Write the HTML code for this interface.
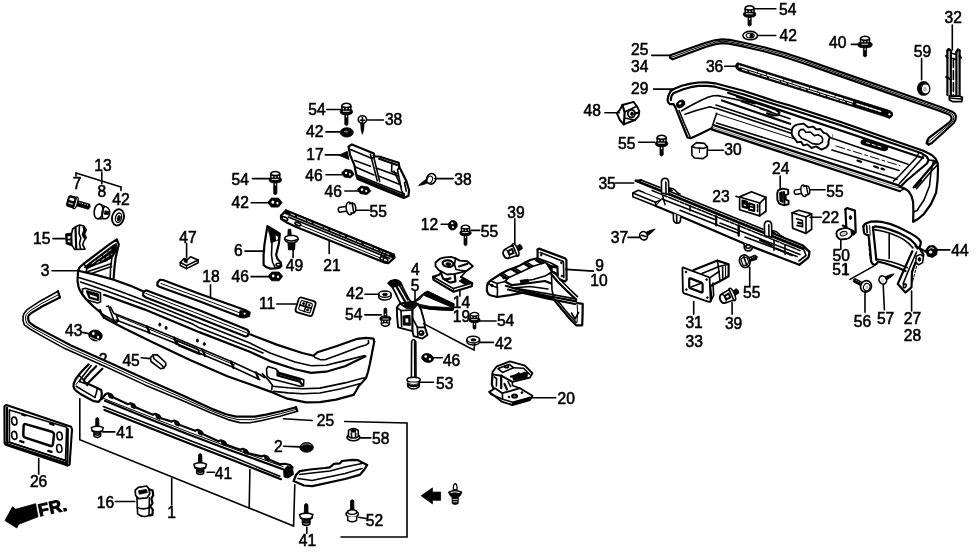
<!DOCTYPE html><html><head><meta charset="utf-8"><title>Bumper parts diagram</title><style>
html,body{margin:0;padding:0;background:#fff}body{width:978px;height:554px;overflow:hidden}svg{display:block;filter:grayscale(1) blur(.45px)}.lb text{font-family:"Liberation Sans",Arial,sans-serif;font-size:15.6px;fill:#000;text-anchor:middle;stroke:#000;stroke-width:.55px}.ld{stroke:#000;stroke-width:1.6;fill:none;stroke-linecap:round}.p{stroke:#000;stroke-width:1.6;fill:none;stroke-linecap:round;stroke-linejoin:round}.pw{stroke:#000;stroke-width:1.6;fill:#fff;stroke-linecap:round;stroke-linejoin:round}.h{stroke:#000;stroke-width:2.2;fill:none;stroke-linecap:round;stroke-linejoin:round}.t{stroke:#000;stroke-width:1;fill:none;stroke-linecap:round;stroke-linejoin:round}.g{stroke:#555;stroke-width:.8;fill:none;stroke-linecap:round;stroke-linejoin:round}.k{fill:#000;stroke:#000;stroke-width:.8;stroke-linejoin:round}.w{fill:#fff;stroke:none}
</style></head><body>
<svg width="978" height="554" viewBox="0 0 978 554">
<rect width="978" height="554" fill="#fff"/>
<g class="lb">
<text x="103" y="171.2">13</text>
<text x="77.2" y="189.4">7</text>
<text x="101.9" y="197">8</text>
<text x="121" y="205.4">42</text>
<text x="41.7" y="244.3">15</text>
<text x="45.2" y="276">3</text>
<text x="188" y="242.8">47</text>
<text x="211" y="282.2">18</text>
<text x="238.4" y="255.8">6</text>
<text x="317" y="115">54</text>
<text x="314.8" y="137">42</text>
<text x="393.6" y="125.4">38</text>
<text x="315" y="160.4">17</text>
<text x="314" y="180.8">46</text>
<text x="333.2" y="197.3">46</text>
<text x="378.2" y="216.5">55</text>
<text x="240.2" y="184.8">54</text>
<text x="240.2" y="208">42</text>
<text x="463" y="184.8">38</text>
<text x="429.5" y="230">12</text>
<text x="639.7" y="54.9">25</text>
<text x="639.7" y="71.9">34</text>
<text x="639.7" y="93.6">29</text>
<text x="714.6" y="72.4">36</text>
<text x="788.3" y="40.5">42</text>
<text x="592.3" y="116">48</text>
<text x="626.8" y="148.5">55</text>
<text x="733" y="155.2">30</text>
<text x="787.8" y="15">54</text>
<text x="837.7" y="48.2">40</text>
<text x="922.4" y="56.9">59</text>
<text x="953.2" y="23.2">32</text>
<text x="780.8" y="174.1">24</text>
<text x="835" y="197.3">55</text>
<text x="830.4" y="222.8">22</text>
<text x="607.1" y="188.7">35</text>
<text x="721" y="201.9">23</text>
<text x="619.5" y="243.1">37</text>
<text x="751.8" y="298.2">55</text>
<text x="599.5" y="270.8">9</text>
<text x="599" y="286">10</text>
<text x="960" y="255.6">44</text>
<text x="841.3" y="261.1">50</text>
<text x="841" y="275.4">51</text>
<text x="862.5" y="326.8">56</text>
<text x="885.6" y="323.5">57</text>
<text x="912.5" y="324">27</text>
<text x="912.5" y="340.5">28</text>
<text x="515.9" y="217.5">39</text>
<text x="489.5" y="236.7">55</text>
<text x="415.4" y="274.9">4</text>
<text x="415" y="290.6">5</text>
<text x="461.4" y="307.8">14</text>
<text x="461.4" y="322.3">19</text>
<text x="505.6" y="326">54</text>
<text x="503.6" y="348.6">42</text>
<text x="451.6" y="366">46</text>
<text x="444.8" y="388.5">53</text>
<text x="566.2" y="403.5">20</text>
<text x="355" y="299.2">42</text>
<text x="353.8" y="319.9">54</text>
<text x="294.5" y="271.1">49</text>
<text x="332" y="270.6">21</text>
<text x="240.3" y="282.3">46</text>
<text x="267.2" y="309.3">11</text>
<text x="103" y="364.5">2</text>
<text x="73.7" y="336.1">43</text>
<text x="131.1" y="366">45</text>
<text x="125" y="437.9">41</text>
<text x="223.5" y="478.6">41</text>
<text x="38.6" y="487.3">26</text>
<text x="105.5" y="508">16</text>
<text x="171.5" y="518">1</text>
<text x="325.4" y="425.7">25</text>
<text x="380.8" y="443.7">58</text>
<text x="278.4" y="451.9">2</text>
<text x="374.5" y="525.5">52</text>
<text x="307.5" y="546">41</text>
<text x="694.1" y="328">31</text>
<text x="694.3" y="347.4">33</text>
<text x="733.6" y="328.9">39</text>
<text x="0" y="0" transform="translate(39.6,516.4) rotate(-12)" style="font-weight:bold;font-size:17.5px;text-anchor:start;stroke-width:.9px;letter-spacing:.3px">FR.</text>
</g>
<path class="h" d="M78.1 270.7L79.5 267.4L86 262L110 243.8L116.8 239.3L118.8 244.6L117 252L115.6 258L114.4 268L113.6 278.8"/>
<path class="k" d="M84 267.4L90 262.4L113 245.2L116.4 243.4L116.6 250.6L112.6 257.4L106 261.2L96 264.8L88 268.4Z"/>
<path class="p" style="stroke:#fff;stroke-width:.9;stroke-dasharray:5 2" d="M92 263.6L111 249.6"/>
<path class="p" style="stroke:#fff;stroke-width:.8;stroke-dasharray:3 2.5" d="M97 263L112 254"/>
<path class="p" d="M88 271.6L100 267.4L111.4 263.6"/>
<path class="p" d="M91.5 273.4L102 269.8L111.6 266.6"/>
<path class="p" d="M111.8 258.5L110.6 268L110.2 277.6"/>
<path class="p" d="M83.6 263.4L87 268L86.2 272"/>
<path class="h" d="M78.1 270.7L95 274.6L113.7 279.7L130 285.6L143.6 291.6"/>
<path class="h" d="M249.9 334.3L277.4 344.9L302.3 353L313.6 355.8"/>
<path class="h" d="M313.6 355.8L317.4 352.3L337 346L357.3 338.8L366 337.8L373.5 338.6L374.2 341.7"/>
<path class="p" d="M313.6 355.8L314.9 357.6L320 359.6L324.9 359.8L340 354.2L359.8 346.7L366.1 344.9L368.6 343.2L368.4 340.6"/>
<path class="h" d="M374.2 341.7L372 353L369.8 364.2L368 372L366.1 377.9L362.5 382L358.5 386.2L356 391L353.5 394.9"/>
<path class="h" d="M353.5 394.9L336 399.6L319.9 402.2L306.1 402.4L287.4 398.7L272.5 392.4L250 384.3L227.4 376.2L190 360L150 341L125 328.7L108.7 320.2L104 317.5"/>
<path class="h" d="M78.1 270.7L77.5 280.7L78.6 287L79.4 289.4L82 294L86.2 299.4L94 307L99.9 311.9L104 317.5"/>
<path class="p" d="M78.7 277.6L95 282.6L119.9 291.3L144.9 300.7L169.8 310.7L199.9 323.1L249.8 343L270 353L295 362L311.2 365.8L326.1 365.2L345 360.6L364.8 355.5"/>
<path class="p" d="M80.6 282L107.4 291.3L144.9 305L192 323.8L199.9 328.1L249.8 347.4L263 353"/>
<path class="h" d="M104 294.8L144.9 309.6L199.9 332.4L249.8 351.8L270 361.1L295 369.2L311.2 372.9L326.1 371.7L345 366.2L365.4 356.3"/>
<path class="p" d="M272.5 386.2L288 387.8L302.4 388.7L319.9 388.1L344.9 382.9L362.3 378.3L366.1 377.9"/>
<path class="p" d="M273.7 391.4L288 392.9L302.4 393.7L319.9 393L340 389L359.8 383.7"/>
<path class="p" d="M262.4 373.7L268 379.6L272.3 384.9L271.7 389.9"/>
<path class="h" d="M143.5 292L146 290.3L200 310.5L247.3 329.7L249 332L247.5 336L245.5 336.5L200 318.5L146 297.5L143 295.5L143.5 292"/>
<path class="t" d="M146 293.5L200 314.5L247 333"/>
<path class="p" d="M82.5 289L85.5 288.3L100.5 292.8L100.5 302L97.5 303L87 300L82.5 294.5L82.5 289"/>
<path class="h" d="M87 291.3L98 294.6L98 300L89.5 297.6L87 291.3"/>
<path class="h" d="M89 293.2L97 295.8"/>
<path class="p" d="M106.5 306.5L108.5 306L113.5 319.5L115.5 323L118.5 321L116.5 315.5"/>
<path class="p" d="M110.5 307L113.6 313.2L150 327.5L184.8 342L234.7 363L259.6 374.5L264.5 377.5"/>
<path class="p" d="M116.1 319.9L150 333L184.8 347L234.7 368L259.6 379.6"/>
<path class="t" d="M113.6 313.2L116.5 315.5L150 329.5L184.8 344L234.7 365"/>
<path class="p" d="M100 309.5L102 314L110 318.5L116 322"/>
<path class="h" d="M147 326.5L149.5 333.0"/>
<path class="h" d="M174 337.5L176.5 344.0"/>
<path class="h" d="M202.5 349.5L205.0 356.0"/>
<path class="h" d="M231 361.5L233.5 368.0"/>
<path class="h" d="M256 372.5L258.5 379.0"/>
<path class="p" d="M176.5 340.5L198 349.5L200 354.5L178.5 345.5L176.5 340.5"/>
<ellipse class="k" cx="159.8" cy="324.6" rx="1.1" ry="1.6"/>
<ellipse class="k" cx="166.1" cy="327.9" rx="1.1" ry="1.6"/>
<ellipse class="k" cx="197.4" cy="340.6" rx="1.1" ry="1.6"/>
<ellipse class="k" cx="204.3" cy="344" rx="1.1" ry="1.6"/>
<path class="p" d="M268 366.5L266.5 369L267 376L270 378.5L273 379.3L300 386.3L303.5 386L303.8 380L300.5 378.5L279 372.5L276 369L268 366.5"/>
<path class="h" d="M277.5 371L277.5 375.5L300 381.8L302 384.5"/>
<path class="h" d="M279 373.8L300 379.8"/>
<path class="h" d="M158.6 281.2L160 279.8L163 280L200 294L245 310L249.6 312.5L249 316L244 317.5L240 316.8L200 301.5L160 287L157.3 285.5L157.5 282.5L158.6 281.2"/>
<path class="t" d="M161 283.5L200 297.8L240 313"/>
<path class="k" d="M240 310.2L239.3 316.5L244 317.5L249.3 315.3L249.5 312.5L245 310.3"/>
<circle cx="244.6" cy="313.6" r="1.1" fill="#fff"/>
<path class="w" d="M58 291.2L40 301.2L27.5 309.3L24 313.5L23.1 316.2L23 320.5L24.4 324.9L30 329L40 334.9L64.9 348.6L107.4 367.4L144.9 384.9L182.3 400.5L211.2 413L228 419.6L239.9 422.6L249.9 422.8L262 420.5L280 416.2L297.3 411.2L296 407.2L281 411.2L266 414.6L254.9 416.6L236.1 416.6L226 414.2L211.2 408.6L182.3 395.2L144.9 378.7L107.4 361.8L71.1 345.5L46.2 332.4L35 326.5L29.3 322.4L28.4 320L28.1 317.4L28.6 315.5L31.2 313.1L42.4 306.2L59.9 297.5Z"/>
<path class="p" d="M58 291.2L40 301.2L27.5 309.3L24 313.5L23.1 316.2L23 320.5L24.4 324.9L30 329L40 334.9L64.9 348.6L107.4 367.4L144.9 384.9L182.3 400.5L211.2 413L228 419.6L239.9 422.6L249.9 422.8L262 420.5L280 416.2L297.3 411.2"/>
<path class="h" d="M59.9 297.5L42.4 306.2L31.2 313.1L28.6 315.5L28.1 317.4L28.4 320L29.3 322.4L35 326.5L46.2 332.4L71.1 345.5L107.4 361.8L144.9 378.7L182.3 395.2L211.2 408.6L226 414.2L236.1 416.6L254.9 416.6L266 414.6L281 411.2L296 407.2"/>
<path class="h" d="M58 291.2L59.9 297.5"/>
<path class="h" d="M297.3 411.2L296 407.2"/>
<path class="t" d="M59.0 294.4L41.2 303.7L29.4 311.2L26.3 314.5L25.6 316.8L25.7 320.2L26.9 323.6L32.5 327.8L43.1 333.6L68.0 347.1L107.4 364.6L144.9 381.8L182.3 397.9L211.2 410.8L227.0 416.9L238.0 419.6L252.4 419.7L264.0 417.6L280.5 413.7L296.6 409.2"/>
<path class="h" d="M88.7 364.4L83 370L78.7 375L75.5 379.5L73.7 383.7L73.5 386.5L74.3 388.7L76.5 391.2L80 393.7L93.7 401.2L98.7 401.8L101.2 398.7"/>
<path class="h" d="M96.2 366.2L90 372.6L83.7 380L85 382.6L97.4 388.1L101.2 389.9L101.8 393.7L101.2 398.7"/>
<path class="p" d="M91.2 365.6L81.8 377.5L79.5 381.5"/>
<path class="h" d="M102.4 368.7L95 376L86.8 384.3"/>
<path class="p" d="M76.2 386.2L85 391.6L94.9 397.4"/>
<path class="p" d="M78.7 375L83.7 380"/>
<path class="p" d="M79.5 381.5L86.8 384.3L87.4 385.6"/>
<path class="p" d="M97.4 388.1L96.4 392.5L94.9 397.4"/>
<path class="t" d="M80.5 379L76 384.5"/>
<path class="h" d="M102.3 398.7L104 396L105.5 394.2L108 393.2L111.5 394.6L113.5 397.6L128.0 404.2L130.5 403.2L134.0 404.6L136.0 407.6L152.9 414.8L155.4 413.8L158.9 415.2L160.9 418.2L171.7 421.6L174.2 420.6L177.7 422.0L179.7 425.0L195.1 430.8L197.6 429.8L201.1 431.2L203.1 434.2L218.5 441.3L221 440.3L224.5 441.7L226.5 444.7L240.3 449.8L242.8 448.8L246.3 450.2L248.3 453.2L261.6 456.4L264.1 455.4L267.6 456.8L269.6 459.8L280 464.2L285 463.8L290 465L292.5 467.4"/>
<path class="k" d="M108 393.4L111.5 394.6L112.6 398.8L109 397.4Z"/>
<path class="k" d="M130.5 403.4L134.0 404.6L135.1 408.8L131.5 407.4Z"/>
<path class="k" d="M155.4 414L158.9 415.2L160.0 419.4L156.4 418Z"/>
<path class="k" d="M174.2 420.8L177.7 422.0L178.8 426.2L175.2 424.8Z"/>
<path class="k" d="M197.6 430L201.1 431.2L202.2 435.4L198.6 434Z"/>
<path class="k" d="M221 440.5L224.5 441.7L225.6 445.9L222 444.5Z"/>
<path class="k" d="M242.8 449L246.3 450.2L247.4 454.4L243.8 453Z"/>
<path class="k" d="M264.1 455.6L267.6 456.8L268.7 461.0L265.1 459.6Z"/>
<path class="h" d="M105 400.8L150 419.2L190 435L233 451.2L283 469.2"/>
<path class="t" d="M104 398.6L150 416.8L190 432.6L233 448.6L283 466.6"/>
<path class="p" d="M103.3 406.5L150 424.8L190 440.5L233 457L279.8 476.2"/>
<path class="h" d="M104.5 410L150 428L190 443.7L233 460.2L281 479.2"/>
<path class="k" d="M283.5 469.5L284 477L288 478L293.5 474.5L292.5 467.4L287 466"/>
<path class="h" d="M293.6 481.1L296 475L299.8 471.1L310 469.5L325 468L329.7 467.4L334 463.8L340 463.3L342 461L352.2 459.9L358 460.2L367.2 464.9L364 470L359.7 474.9L345 479L312.3 486.1L304 485.5L293.6 481.1"/>
<path class="p" d="M299.8 474.5L312 473L330 471L345 467L362 463.5"/>
<path class="p" d="M298 478.5L312 480.5L345 473.5L362 468.5"/>
<path class="pw" style="stroke-width:2.1" d="M4.4 406.1L6.4 405L71.1 426.7L72 429.5L69.6 464.6L67.6 465.6L5.6 444.8L4.6 443Z"/>
<path class="p" d="M9.4 409.9L66.7 427.3L65.5 460.4L9.4 442.3Z"/>
<path class="p" d="M4.6 443L9.4 442.3L65.5 460.4L67.6 465.6"/>
<path class="h" d="M7 407.5L7 443.2"/>
<path class="h" d="M7.5 444.2L66.5 463.2"/>
<path class="h" d="M67.8 429L67.4 463"/>
<path class="h" d="M25.6 424.1L52 431.8Q54.2 432.6 54 434.8L52.9 444.2Q52.4 446.6 50 445.8L25.2 437.6Q23.2 436.8 23.3 434.8L23.6 426Q23.7 423.6 25.6 424.1Z" style="stroke-width:2.5"/>
<ellipse class="p" cx="14.3" cy="421.1" rx="2.6" ry="4" transform="rotate(-8 14.3 421.1)"/>
<ellipse class="p" cx="14.3" cy="435.4" rx="2.6" ry="4" transform="rotate(-8 14.3 435.4)"/>
<ellipse class="p" cx="59.6" cy="436" rx="2.6" ry="4" transform="rotate(-8 59.6 436)"/>
<ellipse class="p" cx="59.3" cy="448.5" rx="2.6" ry="4" transform="rotate(-8 59.3 448.5)"/>
<path class="h" style="stroke-width:2.4" d="M22.1 414.3L25.3 415.3"/>
<path class="h" style="stroke-width:2.4" d="M50.2 423.7L53.4 424.7"/>
<path class="h" style="stroke-width:2.4" d="M20.2 441.2L23.4 442.2"/>
<path class="h" style="stroke-width:2.4" d="M48.3 450.9L51.5 451.9"/>
<path class="k" d="M5 520.6L12.5 506.8L15.6 509.3L35.6 503.7L38 516.8L18.7 524.3L16.8 528Z"/>
<path class="k" d="M421.2 495.8L432.4 487.9L432.4 492.1L440.6 492.1L440.6 500.3L432.4 500.3L432.4 503.8Z"/>
<g transform="translate(275.3 171.2) rotate(0) scale(1.0)">
<path class="k" d="M-1.6 11L-1.6 22.5L0 23.5L1.6 22.5L1.6 11Z"/>
<path d="M-.5 12.3L.6 12.3L.6 14.2L-.5 14.2Z" fill="#fff"/>
<path class="k" d="M-6.25 8.6Q-6.25 6.6 -4.25 6.4L4.25 6.4Q6.25 6.6 6.25 8.6Q6.25 10.6 3.75 11.4L-3.75 11.4Q-6.25 10.6 -6.25 8.6Z"/>
<path d="M-4.3 7L-4.6 2.6Q-3.6 .2 0 .2Q3.6 .2 4.6 2.6L4.3 7Z" fill="#fff" stroke="#000" stroke-width="1.5" stroke-linejoin="round"/>
<path class="p" d="M-4.2 3.6Q0 5.2 4.2 3.6M-1.5 4.6L-1.5 7M1.8 4.6L1.8 7"/>
<path d="M-3.6 8.2L3.2 8.2" stroke="#fff" stroke-width=".9" fill="none"/>
</g>
<g transform="translate(346.4 103.1) rotate(0) scale(1.0)">
<path class="k" d="M-1.6 11L-1.6 21.5L0 22.5L1.6 21.5L1.6 11Z"/>
<path d="M-.5 12.3L.6 12.3L.6 14.2L-.5 14.2Z" fill="#fff"/>
<path class="k" d="M-6.25 8.6Q-6.25 6.6 -4.25 6.4L4.25 6.4Q6.25 6.6 6.25 8.6Q6.25 10.6 3.75 11.4L-3.75 11.4Q-6.25 10.6 -6.25 8.6Z"/>
<path d="M-4.3 7L-4.6 2.6Q-3.6 .2 0 .2Q3.6 .2 4.6 2.6L4.3 7Z" fill="#fff" stroke="#000" stroke-width="1.5" stroke-linejoin="round"/>
<path class="p" d="M-4.2 3.6Q0 5.2 4.2 3.6M-1.5 4.6L-1.5 7M1.8 4.6L1.8 7"/>
<path d="M-3.6 8.2L3.2 8.2" stroke="#fff" stroke-width=".9" fill="none"/>
</g>
<g transform="translate(749.6 5.6) rotate(0) scale(1.0)">
<path class="k" d="M-1.6 11L-1.6 19.5L0 20.5L1.6 19.5L1.6 11Z"/>
<path d="M-.5 12.3L.6 12.3L.6 14.2L-.5 14.2Z" fill="#fff"/>
<path class="k" d="M-6.25 8.6Q-6.25 6.6 -4.25 6.4L4.25 6.4Q6.25 6.6 6.25 8.6Q6.25 10.6 3.75 11.4L-3.75 11.4Q-6.25 10.6 -6.25 8.6Z"/>
<path d="M-4.3 7L-4.6 2.6Q-3.6 .2 0 .2Q3.6 .2 4.6 2.6L4.3 7Z" fill="#fff" stroke="#000" stroke-width="1.5" stroke-linejoin="round"/>
<path class="p" d="M-4.2 3.6Q0 5.2 4.2 3.6M-1.5 4.6L-1.5 7M1.8 4.6L1.8 7"/>
<path d="M-3.6 8.2L3.2 8.2" stroke="#fff" stroke-width=".9" fill="none"/>
</g>
<g transform="translate(865 36) rotate(0) scale(1.0)">
<path class="k" d="M-1.6 11L-1.6 20L0 21L1.6 20L1.6 11Z"/>
<path d="M-.5 12.3L.6 12.3L.6 14.2L-.5 14.2Z" fill="#fff"/>
<path class="k" d="M-7.25 8.6Q-7.25 6.6 -5.25 6.4L5.25 6.4Q7.25 6.6 7.25 8.6Q7.25 10.6 4.75 11.4L-4.75 11.4Q-7.25 10.6 -7.25 8.6Z"/>
<path d="M-4.3 7L-4.6 2.6Q-3.6 .2 0 .2Q3.6 .2 4.6 2.6L4.3 7Z" fill="#fff" stroke="#000" stroke-width="1.5" stroke-linejoin="round"/>
<path class="p" d="M-4.2 3.6Q0 5.2 4.2 3.6M-1.5 4.6L-1.5 7M1.8 4.6L1.8 7"/>
<path d="M-3.6 8.2L3.2 8.2" stroke="#fff" stroke-width=".9" fill="none"/>
</g>
<g transform="translate(661.6 135) rotate(0) scale(1.0)">
<path class="k" d="M-1.6 11L-1.6 20L0 21L1.6 20L1.6 11Z"/>
<path d="M-.5 12.3L.6 12.3L.6 14.2L-.5 14.2Z" fill="#fff"/>
<path class="k" d="M-6.25 8.6Q-6.25 6.6 -4.25 6.4L4.25 6.4Q6.25 6.6 6.25 8.6Q6.25 10.6 3.75 11.4L-3.75 11.4Q-6.25 10.6 -6.25 8.6Z"/>
<path d="M-4.3 7L-4.6 2.6Q-3.6 .2 0 .2Q3.6 .2 4.6 2.6L4.3 7Z" fill="#fff" stroke="#000" stroke-width="1.5" stroke-linejoin="round"/>
<path class="p" d="M-4.2 3.6Q0 5.2 4.2 3.6M-1.5 4.6L-1.5 7M1.8 4.6L1.8 7"/>
<path d="M-3.6 8.2L3.2 8.2" stroke="#fff" stroke-width=".9" fill="none"/>
</g>
<g transform="translate(465.5 225) rotate(0) scale(0.92)">
<path class="k" d="M-1.6 11L-1.6 21.5L0 22.5L1.6 21.5L1.6 11Z"/>
<path d="M-.5 12.3L.6 12.3L.6 14.2L-.5 14.2Z" fill="#fff"/>
<path class="k" d="M-6.25 8.6Q-6.25 6.6 -4.25 6.4L4.25 6.4Q6.25 6.6 6.25 8.6Q6.25 10.6 3.75 11.4L-3.75 11.4Q-6.25 10.6 -6.25 8.6Z"/>
<path d="M-4.3 7L-4.6 2.6Q-3.6 .2 0 .2Q3.6 .2 4.6 2.6L4.3 7Z" fill="#fff" stroke="#000" stroke-width="1.5" stroke-linejoin="round"/>
<path class="p" d="M-4.2 3.6Q0 5.2 4.2 3.6M-1.5 4.6L-1.5 7M1.8 4.6L1.8 7"/>
<path d="M-3.6 8.2L3.2 8.2" stroke="#fff" stroke-width=".9" fill="none"/>
</g>
<g transform="translate(474.5 312.2) rotate(0) scale(0.9)">
<path class="k" d="M-1.6 11L-1.6 18L0 19L1.6 18L1.6 11Z"/>
<path d="M-.5 12.3L.6 12.3L.6 14.2L-.5 14.2Z" fill="#fff"/>
<path class="k" d="M-6.25 8.6Q-6.25 6.6 -4.25 6.4L4.25 6.4Q6.25 6.6 6.25 8.6Q6.25 10.6 3.75 11.4L-3.75 11.4Q-6.25 10.6 -6.25 8.6Z"/>
<path d="M-4.3 7L-4.6 2.6Q-3.6 .2 0 .2Q3.6 .2 4.6 2.6L4.3 7Z" fill="#fff" stroke="#000" stroke-width="1.5" stroke-linejoin="round"/>
<path class="p" d="M-4.2 3.6Q0 5.2 4.2 3.6M-1.5 4.6L-1.5 7M1.8 4.6L1.8 7"/>
<path d="M-3.6 8.2L3.2 8.2" stroke="#fff" stroke-width=".9" fill="none"/>
</g>
<g transform="translate(385.4 326.4) rotate(180) scale(0.9)">
<path class="k" d="M-1.6 11L-1.6 19.5L0 20.5L1.6 19.5L1.6 11Z"/>
<path d="M-.5 12.3L.6 12.3L.6 14.2L-.5 14.2Z" fill="#fff"/>
<path class="k" d="M-6.25 8.6Q-6.25 6.6 -4.25 6.4L4.25 6.4Q6.25 6.6 6.25 8.6Q6.25 10.6 3.75 11.4L-3.75 11.4Q-6.25 10.6 -6.25 8.6Z"/>
<path d="M-4.3 7L-4.6 2.6Q-3.6 .2 0 .2Q3.6 .2 4.6 2.6L4.3 7Z" fill="#fff" stroke="#000" stroke-width="1.5" stroke-linejoin="round"/>
<path class="p" d="M-4.2 3.6Q0 5.2 4.2 3.6M-1.5 4.6L-1.5 7M1.8 4.6L1.8 7"/>
<path d="M-3.6 8.2L3.2 8.2" stroke="#fff" stroke-width=".9" fill="none"/>
</g>
<g><path class="k" d="M267.69999999999993 202.6L271.27 198.1L278.53 198.1L282.1 202.6L278.53 207.1L271.27 207.1Z"/><ellipse cx="272.78799999999995" cy="202.15" rx="1.32" ry="1.53" fill="#fff"/><ellipse cx="277.40799999999996" cy="203.04999999999998" rx="1.122" ry="1.3499999999999999" fill="#fff"/></g>
<ellipse cx="346.8" cy="132.4" rx="6.5" ry="4.7" class="k"/>
<ellipse cx="346" cy="131.6" rx="2.2" ry="1.1" fill="#777"/>
<g><ellipse cx="750.2" cy="35.6" rx="7.3" ry="4.2" fill="#fff" stroke="#000" stroke-width="1.6"/><ellipse cx="750.2" cy="35.6" rx="4.015000000000001" ry="2.3100000000000005" fill="#fff" stroke="#000" stroke-width="1.1"/></g>
<ellipse cx="751.5" cy="35.8" rx="1.6" ry="2" class="k"/>
<path class="pw" style="stroke-width:1.5" d="M378.7 294.2L378.7 296.6Q378.9 299.9 384.9 299.9Q391 299.9 391.1 296.6L391.1 294.2"/>
<ellipse cx="384.9" cy="294.2" rx="6.2" ry="3.1" fill="#fff" stroke="#000" stroke-width="1.5"/>
<ellipse cx="385" cy="294.4" rx="2.6" ry="1.2" class="k"/>
<path class="pw" style="stroke-width:1.5" d="M466.9 339.5L466.9 341.5Q467 344.9 473.2 344.9Q479.5 344.9 479.6 341.5L479.6 339.5"/>
<ellipse cx="473.2" cy="339.6" rx="6.3" ry="3.3" fill="#fff" stroke="#000" stroke-width="1.5"/>
<ellipse cx="473.4" cy="339.9" rx="2.6" ry="1.2" class="k"/>
<g transform="translate(72.3 201.9) rotate(16)"><path class="k" d="M3 -2.6L17.5 -2.6L18.6 0L17.5 2.6L3 2.6Z"/><path d="M7 -1.2L16.5 -1.2" stroke="#fff" stroke-width=".9" stroke-dasharray="1.2 1.4"/><ellipse cx="3.2" cy="0" rx="2.1" ry="6.1" fill="#fff" stroke="#000" stroke-width="1.4"/><path class="k" d="M-5 -4.4L-3.6 -5.6L2 -5.6L3 -4.6L3 4.6L2 5.6L-3.6 5.6L-5 4.4Z"/><path d="M-3.4 -3.6L1.2 -3.6L1.2 -1L-3.4 -1Z" fill="#fff"/><path d="M-3.4 1.2L1.2 1.2L1.2 3L-3.4 3Z" fill="#aaa"/></g>
<g transform="rotate(8 101 211.7)"><path class="pw" style="stroke-width:1.5" d="M99 204.6L105.5 206.2Q109.8 207.5 109.8 212.4Q109.8 217.4 105.5 218.3L99 219"/><ellipse cx="98.6" cy="211.8" rx="4.4" ry="7.4" fill="#fff" stroke="#000" stroke-width="1.6"/><path class="p" d="M103.5 206.6Q100.8 211.9 103.5 217.6"/><path class="k" d="M104.8 210.2L108.6 210.6L108.6 213.4L104.8 213.8Z"/></g>
<g transform="rotate(14 118 217.4)"><ellipse cx="118" cy="217.4" rx="5.9" ry="8.2" fill="#fff" stroke="#000" stroke-width="1.9"/><ellipse cx="118.6" cy="217.6" rx="3" ry="4.8" fill="#fff" stroke="#000" stroke-width="1.3"/><ellipse cx="119" cy="218" rx="1.4" ry="2.8" class="k"/></g>
<path class="pw" d="M66 234.2L71.8 233.2L72.6 229L75.5 226.8L79.8 225L83.9 226.1L86.2 229.6L84.4 234.2L86.2 237.7L83.9 241.1L82.7 244.6L85 249.2L74.6 249.4L72.3 245.7L66.5 243.4Z"/>
<path class="k" d="M66 234.2L71.8 233.2L72.3 245.7L66.5 243.4Z"/>
<path d="M67.6 236.4L70.4 236L70.4 238.4L67.6 238.8ZM67.8 240.4L70.4 240.4L70.4 242.6L67.8 242Z" fill="#fff"/>
<path class="h" d="M75.5 227.5L76.2 248.5"/>
<path class="p" d="M79.5 226L79 233.5L80.8 238L79.5 243.5L80.5 248.6"/>
<path class="h" d="M83.6 227.5L84.5 230.2L82.8 234.5L84.4 237.8"/>
<path class="h" d="M348.5 146.7L351.9 144.4L373.9 153.6L374.5 156.5L379.1 156.5L398.7 162.8L399.3 166.9L406.2 180.7L409.1 190L408.5 195.7L403.9 198L378.5 187.7L357.7 179L356.6 176.1L354.2 164.6L350.2 155.3Z"/>
<path class="p" d="M350.5 149.5L372 158.5L374.5 156.5"/>
<path class="p" d="M354.8 160.5L370.4 166.3"/>
<path class="p" d="M376.2 168L398.1 176.1"/>
<path class="p" d="M355.4 166.9L373.9 175"/>
<path class="p" d="M378.5 176.1L399.3 184.2"/>
<path class="p" d="M370.4 154.2L377.3 180.7"/>
<path class="p" d="M373.3 155.3L379.7 181.5"/>
<path class="h" d="M379.1 158.8L397 165"/>
<path class="h" d="M357.7 177.3L378.5 185.8L403.9 195.9"/>
<path class="p" d="M356.8 175L378.5 183.8L404.5 194"/>
<path class="p" d="M399.3 166.9L397.5 170L401.6 190.5L404 195.5"/>
<path class="p" d="M392 163L391.5 171.5L397 173.5"/>
<path class="p" d="M394 171L401 186.5"/>
<path class="p" d="M406.2 180.7L404.5 183L406.3 191"/>
<path class="k" d="M338.9 155.3L347.3 151.3L349 159.6Z"/>
<g transform="rotate(8 347.9 173.6)"><path class="k" d="M341.59999999999997 173.6L344.765 169.7L351.03499999999997 169.7L354.2 173.6L351.03499999999997 177.5L344.765 177.5Z"/><ellipse cx="346.07599999999996" cy="173.21" rx="1.1400000000000001" ry="1.326" fill="#fff"/><ellipse cx="350.066" cy="173.98999999999998" rx="0.9690000000000001" ry="1.17" fill="#fff"/></g>
<g transform="rotate(8 364 190.3)"><path class="k" d="M357.2 190.3L360.59 186.5L367.41 186.5L370.8 190.3L367.41 194.10000000000002L360.59 194.10000000000002Z"/><ellipse cx="362.016" cy="189.92000000000002" rx="1.2400000000000002" ry="1.292" fill="#fff"/><ellipse cx="366.356" cy="190.68" rx="1.054" ry="1.14" fill="#fff"/></g>
<g transform="translate(350.6 208.3) rotate(-8) scale(1.0)">
<path class="pw" style="stroke-width:1.5" d="M-3 -2.4L-11.5 -2.4Q-13.5 0 -11.5 2.4L-3 2.4Z"/>
<ellipse cx="-1.2" cy="0" rx="3.2" ry="6.4" fill="#fff" stroke="#000" stroke-width="1.5"/>
<path class="pw" style="stroke-width:1.5" d="M-.5 -4.6L2.4 -5L4.6 -3.6L5.2 0L4.6 3.6L2.4 5L-.5 4.6"/>
<path class="p" d="M2.2 -4.8L2.6 4.8"/>
</g>
<g transform="translate(805 190.6) rotate(-10) scale(0.92)">
<path class="pw" style="stroke-width:1.5" d="M-3 -2.4L-11 -2.4Q-13 0 -11 2.4L-3 2.4Z"/>
<ellipse cx="-1.2" cy="0" rx="3.2" ry="6.4" fill="#fff" stroke="#000" stroke-width="1.5"/>
<path class="pw" style="stroke-width:1.5" d="M-.5 -4.6L2.4 -5L4.6 -3.6L5.2 0L4.6 3.6L2.4 5L-.5 4.6"/>
<path class="p" d="M2.2 -4.8L2.6 4.8"/>
</g>
<g transform="translate(362.4 119.6) rotate(0)">
<path class="k" d="M-1.7 3.2L-1.3 9.975000000000001L0 14.7L1.3 9.975000000000001L1.7 3.2Z"/>
<ellipse cx="0" cy="0" rx="4.2" ry="3.7800000000000002" fill="#fff" stroke="#000" stroke-width="1.6"/>
<path class="p" d="M-2.1 .6L2.1 .6M0 -2.1L0 2.52"/>
</g>
<g transform="translate(431 179) rotate(62)"><path class="k" d="M-1.9 3L-1.4 9L0 14L1.4 9L1.9 3Z"/></g>
<ellipse cx="431.2" cy="178.8" rx="4.6" ry="5.4" fill="#fff" stroke="#000" stroke-width="1.5" transform="rotate(20 431.2 178.8)"/>
<ellipse cx="429.8" cy="179.6" rx="2.6" ry="3.6" fill="#fff" stroke="#000" stroke-width="1.1" transform="rotate(20 429.8 179.6)"/>
<path class="h" style="stroke-width:2.6" d="M286.0 210.6L393.9 254.9"/>
<path class="h" d="M286.0 210.6L281 215.6L281 218.9L287.2 222.7L296.9 227.2L385.0 262.7L388.3 263.2L394.5 257.6L393.9 254.9"/>
<path class="k" d="M286.2 210.0L394.1 254.3L392.7 257.9L284.8 213.6Z"/>
<path class="p" style="stroke:#fff;stroke-width:.9;stroke-dasharray:4 3 9 2" d="M290.9 214.1L390.1 254.9"/>
<path class="p" d="M288.4 217.0L389.8 258.6"/>
<path class="t" d="M300.2 225.1L380.1 257.9"/>
<ellipse class="pw" cx="284.8" cy="218.6" rx="3.1" ry="1.5" transform="rotate(24 284.8 218.6)"/>
<ellipse class="pw" cx="297.8" cy="224" rx="3.1" ry="1.3" transform="rotate(24 297.8 224)"/>
<ellipse class="pw" cx="384" cy="259.3" rx="4.2" ry="1.8" transform="rotate(24 384 259.3)"/>
<path class="p" d="M386.0 252.7L382.4 261.5"/>
<path class="p" d="M382.7 251.4L381.2 255.1"/>
<path class="h" d="M267.4 226.2L270.5 228L279.8 233.7L279 243L276.1 254.9L277.5 259L280.8 262.4L281.3 266L279.8 267.6L275.5 268.3L269.9 268.6L266 267L263.6 264.9L263.6 255L264.4 244.9L265.8 236L267.4 226.2Z"/>
<path class="k" d="M267.4 226.2L279.8 233.7L279.3 239.5L274.5 241.5L271 243L270 236Z"/>
<path d="M275.6 235.4L278 236.8L277.8 239.4L276 240.2Z" fill="#fff"/>
<path class="p" d="M272 243L271.5 255L272.5 262L275.5 268.3"/>
<ellipse class="pw" cx="278.3" cy="264.8" rx="2.2" ry="1.6"/>
<path class="k" d="M288.2 229.3L290.8 229.3L291.2 234.8L287.8 234.8Z"/>
<path d="M284.6 239.2Q284.6 235.4 291.4 235.2Q298.2 235.4 298.2 239.2L296.8 241.4L294.8 242.2L294.2 249.4L288.8 249.4L288.2 242.2L286 241.4Z" fill="#fff" stroke="#000" stroke-width="1.6" stroke-linejoin="round"/>
<path class="k" d="M288.4 242.4L294.6 242.4L294 249.4L289 249.4Z"/>
<path class="p" d="M285.2 239.6Q291.4 242.4 297.6 239.6"/>
<g><path class="k" d="M268.09999999999997 276.4L271.715 272.0L279.085 272.0L282.7 276.4L279.085 280.79999999999995L271.715 280.79999999999995Z"/><ellipse cx="273.256" cy="275.96" rx="1.34" ry="1.4960000000000002" fill="#fff"/><ellipse cx="277.94599999999997" cy="276.84" rx="1.139" ry="1.32" fill="#fff"/></g>
<g transform="rotate(17 305.5 306.6)"><rect x="296.8" y="299" width="17.6" height="15.4" rx="2.6" fill="#fff" stroke="#000" stroke-width="1.8"/><rect x="299.6" y="301.8" width="12" height="9.8" rx="1.5" fill="none" stroke="#000" stroke-width="1.1"/><path class="p" d="M305.6 301.8L305.6 311.6M299.6 306.6L311.6 306.6"/><circle cx="302.8" cy="304.2" r="1.1" class="k"/><circle cx="308.6" cy="309.2" r="1.1" class="k"/><circle cx="308.6" cy="304.2" r=".9" class="k"/></g>
<path class="pw" style="stroke-width:1.6" d="M180.3 262.5L184 258.5L187 259.8L190.5 256.8L198.2 260L198.2 262.8L186.5 268.6L180.3 265.5Z"/>
<path class="p" d="M180.3 262.5L186.5 265.6L198.2 260"/>
<path class="k" d="M184 258.5L184.2 261.8L187.2 263L187 259.8Z"/>
<path class="p" d="M186.5 265.6L186.5 268.6"/>
<g transform="rotate(12 95.5 335.5)"><ellipse cx="95.5" cy="335.5" rx="6.8" ry="5.4" class="k"/><ellipse cx="93" cy="334" rx="1.3" ry="1.5" fill="#fff"/><ellipse cx="98.3" cy="336.6" rx="1.1" ry="1.4" fill="#fff"/><path d="M90.5 338.4L100 339.8" stroke="#fff" stroke-width=".7"/></g>
<path class="pw" style="stroke-width:1.6" d="M150.5 357.5L153 355L157 354.6L165.5 362.5L166 365L163.5 368.2L160.5 368.6L151 361.5Z"/>
<path class="p" d="M153 355L153.8 358.5L162.8 366L163.5 368.2"/>
<g transform="translate(97.3 417.4) scale(1.0)">
<path class="k" d="M-1.5 1.2Q0 -1 1.5 1.2L1.7 9L-1.7 9Z"/>
<path d="M-6 10.2Q0 7.6 6 10.2L5 13.6L3.4 14.4L3.2 19Q0 21 -3.2 19L-3.4 14.4L-5 13.6Z" fill="#fff" stroke="#000" stroke-width="1.5" stroke-linejoin="round"/>
<path class="p" d="M-5 13.4Q0 15.6 5 13.4M-3.2 17Q0 18.6 3.2 17"/>
<path class="k" d="M-3 15.4L3 15.4L3 16.4L-3 16.4Z"/>
</g>
<g transform="translate(200.2 453.4) scale(1.05)">
<path class="k" d="M-1.5 1.2Q0 -1 1.5 1.2L1.7 9L-1.7 9Z"/>
<path d="M-6 10.2Q0 7.6 6 10.2L5 13.6L3.4 14.4L3.2 19Q0 21 -3.2 19L-3.4 14.4L-5 13.6Z" fill="#fff" stroke="#000" stroke-width="1.5" stroke-linejoin="round"/>
<path class="p" d="M-5 13.4Q0 15.6 5 13.4M-3.2 17Q0 18.6 3.2 17"/>
<path class="k" d="M-3 15.4L3 15.4L3 16.4L-3 16.4Z"/>
</g>
<g transform="translate(306.2 503.3) scale(1.1)">
<path class="k" d="M-1.5 1.2Q0 -1 1.5 1.2L1.7 9L-1.7 9Z"/>
<path d="M-6 10.2Q0 7.6 6 10.2L5 13.6L3.4 14.4L3.2 19Q0 21 -3.2 19L-3.4 14.4L-5 13.6Z" fill="#fff" stroke="#000" stroke-width="1.5" stroke-linejoin="round"/>
<path class="p" d="M-5 13.4Q0 15.6 5 13.4M-3.2 17Q0 18.6 3.2 17"/>
<path class="k" d="M-3 15.4L3 15.4L3 16.4L-3 16.4Z"/>
</g>
<ellipse cx="306.6" cy="447.4" rx="6.8" ry="4.9" class="k"/><path d="M301.5 445.6Q306 442.4 311.4 445.2" stroke="#888" stroke-width="1" fill="none"/>
<ellipse cx="353.4" cy="437.2" rx="6.4" ry="3.6" fill="#fff" stroke="#000" stroke-width="1.6"/>
<path d="M348.4 436.6L348.6 430.4Q353.4 426.6 358.2 430.4L358.4 436.6Q353.4 439.4 348.4 436.6Z" fill="#fff" stroke="#000" stroke-width="1.6" stroke-linejoin="round"/>
<ellipse cx="353.4" cy="430.8" rx="2.6" ry="1.5" class="k"/><path class="p" d="M351.4 433L351.6 437.6M355.6 433L355.6 437.6"/>
<path class="k" d="M350.6 500.6Q352.2 499 353.8 500.6L354 511L350.4 511Z"/>
<ellipse cx="352.2" cy="514" rx="6.2" ry="3.2" fill="#fff" stroke="#000" stroke-width="1.6"/>
<path d="M348 510.8Q352.2 508.6 356.4 510.8L356.4 513.4Q352.2 515.4 348 513.4Z" fill="#fff" stroke="#000" stroke-width="1.4"/>
<path d="M347.6 516.4L347.8 520.4Q352.2 523.2 356.6 520.4L356.8 516.4" fill="#fff" stroke="#000" stroke-width="1.5"/>
<path d="M136.8 494.6L137.6 513.8Q142.5 518.2 149 515.4L149.4 497" fill="#fff" stroke="#000" stroke-width="1.6" stroke-linejoin="round"/>
<path d="M135.2 490.2L138.4 487.4L146.6 486L148.6 488.4L149.8 493.8L147 497.8L138.6 498.6L135.6 495.4Z" fill="#fff" stroke="#000" stroke-width="1.7" stroke-linejoin="round"/>
<path class="k" d="M138.6 490.8L146.4 489.4L147.4 492.6L139.2 494.2Z"/>
<path class="h" d="M149.8 489.4L152.6 490.6L153.2 495.2L151.4 498.6L152.6 503.4L150.2 506.4L152.8 509.6L152.4 514.8L149.2 515.4"/>
<path class="p" d="M137.4 507.4Q143 510.2 149.2 507.6"/>
<path d="M453.4 489.6Q453 484 455.2 483.6Q457.4 484 457 489.6Z" fill="#fff" stroke="#000" stroke-width="1.3"/>
<path class="k" d="M448.4 492Q455.2 488.6 462 492L460.4 495.6L458.4 497L458.2 503.6Q455.2 505.6 452.2 503.6L452 497L450 495.6Z"/>
<path d="M450.6 492.6Q455.2 491 459.8 492.6" stroke="#fff" stroke-width="1" fill="none"/><path d="M452.6 499.4L457.8 499.4M452.8 501.8L457.6 501.8" stroke="#fff" stroke-width=".8"/>
<path class="h" d="M670.8 90.8L675 88.5L681.7 85.8L690.7 83.6L698.3 82.5L707 82.4L715 83.3L743.3 90.8L776.7 101.7L790 105.5L840 121.7L890 139.2L923.3 150.8L931.7 155L935.5 158.5L937.6 163L938 168.2"/>
<path class="h" d="M670.8 100L671.5 96L673.3 93.3L683.3 89.2L690.7 87.2L698.3 85.8L707 85.8L715 86.7L743.3 94.2L776.7 105L790 109L840 125L890 142.5L921.7 153.3L926.7 156.6L928.6 160L927 163.5L906.7 180.5L900.5 186.7"/>
<path class="h" d="M938 168.2L937.6 180L936.1 192.7L931 204L923.8 214.2L918 219L913.1 221.8L913.4 212L913.1 201.9L911.5 196L908.5 191.2L904.5 188.5L899.3 186.6"/>
<path class="p" d="M933.5 160.5L931 172L929.5 186L924 200L917 210.5L913.4 212"/>
<path class="p" d="M928.6 160L933.5 160.5L937.6 163"/>
<path class="h" d="M913.6 187.4L918 182.5L929 169.5L935.4 162.6"/>
<path class="p" d="M916.4 188.6L921 183.5L931 171.5L937 165.4"/>
<path class="h" style="stroke-width:3" d="M915 186.4L920.6 180.4"/>
<path class="p" d="M923.5 154.5L922.5 158L905 177.5L899.5 183.5"/>
<path class="p" d="M918.5 153.5L916.5 157.5L899 176L893.5 181.2"/>
<path class="h" d="M670.8 90.8L668.5 95.5L667.5 100L668.5 102.8L670 104.2L673.5 104L675.8 108.3L681 121.5L687.5 137.5L690.8 138.3L700 134L711.7 128.3"/>
<path class="p" d="M679 110.5L684.5 124L690 136.5"/>
<ellipse cx="680.6" cy="104" rx="4.6" ry="3.4" class="k" transform="rotate(-30 680.6 104)"/><ellipse cx="680.2" cy="103.4" rx="1.6" ry=".9" fill="#fff" transform="rotate(-30 680.2 103.4)"/>
<path class="p" d="M681.7 110.8L690 106L701.7 100L708 97.2L713.3 95.8L718 95.6L723.3 96.7L755 103.6"/>
<path class="p" d="M685 114.2L697 110.2L710 106.7L715 108.3"/>
<path class="p" d="M716.7 113.3L714 121L711.7 128.3"/>
<path class="h" d="M728 92.8L923 158.0"/>
<path class="p" d="M760 108.5L790 118.8"/>
<path class="h" d="M722 100.5L790 123.8"/>
<path class="p" d="M830 137.5L908 164.3"/>
<path class="p" d="M716 105.1L795 131.3"/>
<path class="p" d="M716 108.2L800 136.2"/>
<path class="t" d="M836 146.0L900 165.7" style="stroke-dasharray:9 3 3 3"/>
<path class="t" d="M716 113.6L805 142.3"/>
<path class="p" d="M832 149.9L899 170.5"/>
<path class="p" d="M716.5 122.9L897 179.3"/>
<path class="h" d="M714 125.3L899.3 185.6"/>
<path class="h" d="M711.7 129.4L900 191.2"/>
<path class="p" d="M900 191.1L904.5 188.5"/>
<path class="g" d="M713 127.5L899 188.2"/>
<path class="h" d="M737 96.8L760 104.2L776 109.8L779.5 112.5L778 115.2L773 115.4L767 113.4"/>
<path class="p" d="M741.5 101.5L768 110.5L772 112.6"/>
<path d="M864 140.2L885.4 146.4Q888 147.4 887.2 149L886.4 149.8Q884.6 150.8 882 150L863 144.2Q860.8 143.2 861.6 141.6Q862.4 139.8 864 140.2Z" fill="#000" stroke="#000" stroke-width="1.8"/>
<path d="M866 142.6L883 147.6" stroke="#fff" stroke-width="1" stroke-dasharray="4 2" fill="none"/>
<path class="h" d="M874 166.3L878 167.8"/>
<path class="h" d="M881.5 168.6L884 169.5"/>
<path class="h" d="M857.5 160.6L861 161.8"/>
<path d="M797 124.6Q791.6 126.6 791.8 131.4Q791 135.4 794.6 138.6L797.4 142.4L801 141.8L803.4 145.4L807.4 144.4L811.6 148L816 146.4L821.4 149.6L826.4 147.4Q829.4 144.6 828.4 141.4L829.8 137.4L826.6 133.6L823.6 132.8L820.4 129L816.4 129.4L813 126.6L808.4 127.4L803.4 123.6Z" fill="#fff" stroke="#000" stroke-width="1.9" stroke-linejoin="round"/>
<path d="M800.6 129.6Q798 131.6 798.8 135L802 138.6L807 140.4L812.4 143.6L818.6 144.4L822.4 142Q823.6 139.4 821.6 136.6L818 134.8L814.4 135.6L810.4 132L806 132.4L803.6 129.4Z" fill="#fff" stroke="#000" stroke-width="1.6" stroke-linejoin="round"/>
<path class="g" d="M832.6 134.5L832.8 139.6"/>
<path class="h" d="M671 55L690 48.3L705 43L714.7 40.3L722 39.3L729.7 39.9L745 43L765 47.5L783.9 52.8L804 59.3L840 71.9L889.9 89.3L939.8 106.8L948 110L952.3 111.8L954.8 113.6L956 116.4L955.4 120L953.4 123.3L931.6 143.2L928.6 144.6"/>
<path class="h" d="M672.6 59.2L691.2 52.2L706.2 46.8L715.5 44.1L722 43.1L729 43.7L744 46.7L764 51.2L782.7 56.5L802.8 63L838.8 75.6L888.7 93.1L938.6 110.5L946.5 113.6L949.8 114.9L951.2 116.6L951.6 118.6L951 120.6L949.4 122.3L928.6 138.2L927.4 140.6"/>
<path class="t" d="M671.8 57.1L690.6 50.2L705.6 44.9L715.1 42.2L722.0 41.2L729.4 41.8L744.5 44.9L764.5 49.4L783.3 54.6L803.4 61.1L839.4 73.8L889.3 91.2L939.2 108.7L947.2 111.8L951.0 113.3L953.0 115.1L953.8 117.5L953.2 120.3L951.4 122.8L930.1 140.7L928.0 142.6"/>
<path class="h" d="M671 55L669.8 57.6L672.6 59.2"/>
<path class="h" d="M928.6 144.6L926.6 143.4L927.4 140.6"/>
<path class="k" d="M737.8 62.8L889.9 110.6L892.6 112.8L892.4 116L889.6 118.4L884.7 116.6L738.7 70.7L736 68.4L735.6 65.4L736.6 63.4Z"/>
<path class="p" style="stroke:#fff;stroke-width:1.5;stroke-dasharray:16 2 7 2" d="M741.6 66.8L852.5 101.9"/>
<path class="p" style="stroke:#fff;stroke-width:1;stroke-dasharray:5 2.5 11 2" d="M742.4 69.4L851.9 104.0"/>
<path class="p" style="stroke:#fff;stroke-width:1.4;stroke-dasharray:3 1.4" d="M856.9 103.8L881.2 111.6"/>
<circle cx="739.6" cy="66.4" r="1.2" fill="#fff"/>
<circle cx="889.4" cy="114.4" r="1.1" fill="#fff"/>
<ellipse cx="923.6" cy="88.4" rx="6.6" ry="7.4" fill="#000"/><ellipse cx="925.2" cy="88.8" rx="4.2" ry="5" fill="#fff"/><ellipse cx="925.6" cy="89" rx="4.2" ry="5" fill="none" stroke="#000" stroke-width="1.2"/><ellipse cx="925" cy="89.2" rx="1.9" ry="2.2" fill="#bbb"/>
<path class="h" d="M947.4 50.5L948.6 49L950.8 50.5L950.8 96"/>
<path class="h" d="M947.4 50.5L947.4 95"/>
<path class="h" d="M956.4 52L956.4 96.5"/>
<path class="h" d="M959.6 50.5L959.6 97"/>
<path class="h" d="M956.4 52L957.8 49.4L959.6 50.5"/>
<path class="p" d="M950.8 53L956.4 54.5"/>
<path class="p" d="M950.8 58L956.4 59.5"/>
<path class="p" style="stroke-dasharray:9 3" d="M953.4 58.5L953.4 95"/>
<path class="h" d="M946.2 77L951 79.5"/>
<path class="h" d="M946.2 56L947.4 58"/>
<path class="h" d="M959.6 56L961 57.6"/>
<path class="pw" style="stroke-width:1.7" d="M949.2 95.8L949.4 100L952.6 101.6L961.8 101.6L962.4 97.4L959.6 96.2Z"/>
<path class="p" d="M949.4 98L961.8 99"/>
<path class="pw" style="stroke-width:1.6" d="M632.8 193L638.3 190.2L662.2 199.4L655.8 205.9L632.8 196.7Z"/>
<path class="p" d="M632.8 193L655.5 202.3L662.2 199.4"/>
<path class="p" d="M655.5 202.3L655.8 205.9"/>
<path class="w" d="M636 179.6L641 179.9L804 246.0L809.5 251.9L808.5 257.4L799.3 264.8L744.1 243.6L673.3 213.3L655.8 205.9L662.2 199.4L645 192.6L636 182.3Z"/>
<path class="h" style="stroke-width:2.8" d="M636 180.8L803 248.6"/>
<path class="p" d="M641 179.9L660 187.6"/>
<path class="p" d="M670 191.6L763 229.3"/>
<path class="h" d="M774 233.8L803 245.6L809.5 251.9L808.5 257.4L799.3 264.8"/>
<path class="p" d="M636 180.8L641 179.9"/>
<path class="h" d="M655.8 205.9L673.3 213.3L744.1 243.6L799.3 264.8"/>
<path class="p" style="stroke-dasharray:11 1.5 4 1.5;stroke-width:1.5" d="M652 190.5L800 250.6"/>
<path class="p" d="M662 198.9L716 219.9"/>
<path class="p" d="M720 223.1L800 254.4"/>
<path class="p" d="M680 210.3L738 233.2"/>
<path class="p" d="M745 237.0L797 256.6"/>
<path class="h" d="M716.2 216.4L716.2 225.4"/>
<path class="h" style="stroke-width:2.4" d="M738.7 225.5L738.7 235.5"/>
<path class="p" d="M662 193.4L665 204.6"/>
<path class="p" d="M690 205.7L690 210.7"/>
<path class="p" d="M774 240.8L774 250.3"/>
<path class="p" d="M785 245.3L785 254.3"/>
<path class="p" d="M804 250.0L806 255.5L799 261"/>
<path class="h" d="M760 240.1L772 245.4"/>
<path class="h" d="M776 248.6L792 255.3"/>
<path d="M661.6 193L661.4 181.6Q661.6 178.4 665 178.2Q668.4 178.4 668.6 181.6L668.8 194.4Z" fill="#fff" stroke="#000" stroke-width="1.6" stroke-linejoin="round"/>
<path class="p" d="M665.8 182L666 193.6"/>
<path class="p" d="M668.8 188Q673 187.6 675.5 190.6Q677.5 193.5 680 194"/>
<path class="k" d="M669 188.4Q671.5 188.6 673 190.6L669 191.4Z"/>
<path d="M764.6 235.8L764.4 224.4Q764.6 221.20000000000002 768 221.0Q771.4 221.20000000000002 771.6 224.4L771.8 237.20000000000002Z" fill="#fff" stroke="#000" stroke-width="1.6" stroke-linejoin="round"/>
<path class="p" d="M768.8 224.8L769 236.4"/>
<path class="p" d="M771.8 230.8Q776 230.4 778.5 233.4Q780.5 236.3 783 236.8"/>
<path class="k" d="M772 231.20000000000002Q774.5 231.4 776 233.4L772 234.20000000000002Z"/>
<path d="M673.3 213.3L673.5 220Q674.5 223.4 677.4 223.2Q680.4 223 680.6 219.6L680.6 216.4" fill="#fff" stroke="#000" stroke-width="1.6"/><path class="p" d="M676.6 215L676.8 222.6"/>
<path d="M744.1 243.6L744.3 248Q745.4 251.2 748.4 251Q752 250.8 752.4 247.2" fill="#fff" stroke="#000" stroke-width="1.6"/><ellipse cx="748.2" cy="246.6" rx="2.4" ry="1.7" class="pw"/>
<path class="pw" style="stroke-width:1.7" d="M739.6 196.9L751.5 191.7L765.9 197.4L765.9 211.3L759.7 215.9L739.6 209.7Z"/>
<path class="p" d="M739.6 196.9L759.7 203.1L765.9 197.4"/>
<path class="p" d="M759.7 203.1L759.7 215.9"/>
<path class="h" d="M742.6 200.6L746.9 201.9L746.9 207.9L742.6 206.6Z"/>
<path class="h" d="M748.9 203.4L754.2 205L754.2 211L748.9 209.4Z"/>
<path class="p" d="M743.6 203.4L746 204.2"/>
<path class="p" d="M750 206.4L753 207.3"/>
<path class="p" style="stroke-dasharray:3.4 1.6" d="M757.6 204.5L757.6 211.5"/>
<path class="pw" style="stroke-width:1.7" d="M792.1 212.8L798.8 210.3L811.6 213.9L811.6 229.3L806 233.4L792.6 228.3Z"/>
<path class="p" d="M792.1 212.8L806 217L811.6 213.9"/>
<path class="p" d="M806 217L806 233.4"/>
<path class="p" d="M796.4 218.8L802.4 220.6L802.6 226.8L797 225.4"/>
<path class="h" d="M798 222.6L801 223.4"/>
<path class="pw" style="stroke-width:1.6" d="M691.7 146.5L696.5 142.6L704.5 143.4L707.4 146.8L707.2 155.6L703 158.6L694.4 158L692 155.2Z"/>
<path class="p" d="M691.7 146.5L695.6 147.8L703.2 148.4L707.4 146.8"/>
<path class="t" d="M699.4 148.2L699.4 152.5"/>
<path d="M778 190.4L782.6 188.6L788 189.6L788.4 193.8L785.6 195.2L785.8 199.6L788.6 200.8L788.6 204.2L783.6 205.2L779.2 203.6L777.4 200L777.2 193.6Z" fill="#fff" stroke="#000" stroke-width="1.9" stroke-linejoin="round"/>
<path class="k" d="M779.6 192.6L782.4 191.6L782.8 202.4L780 201.2Z"/><path class="h" d="M784 192.2L784.4 203"/>
<path class="h" d="M537.6 249.7L539 248.6L565.1 258.4L566.4 260L566.6 280L565 281.4L560 279.4"/>
<path class="h" d="M537.6 249.7L537.6 258.3"/>
<path class="p" d="M540.2 252.6L563.4 261.4L563.8 277.5"/>
<circle cx="541.2" cy="255" r=".9" class="k"/><circle cx="561.4" cy="262.8" r=".9" class="k"/><circle cx="562" cy="276" r=".9" class="k"/>
<path class="h" d="M537.6 258.3L531 259.8L526.4 261.8L520 265.4L514.4 267.8L508 270L502.3 272.9L496 277L490.3 280.7L487.7 283.2L487 287L486.9 291L488 293.6L490.3 295.3L497.2 297L510 295.2L523 292.7L536 294.6L548.7 297L553.9 299.6"/>
<path class="p" d="M526.4 261.8L533 266.2L545 262.4L538.5 258.6"/>
<path class="p" d="M514.4 267.8L521 272L533 266.2"/>
<path class="p" d="M502.3 272.9L509 277.4L521 272"/>
<path class="k" d="M525.2 262.4L531.8 266.8L529.4 268.0L522.8 263.6Z"/>
<path class="k" d="M513.2 268.4L519.8 272.6L517.4 273.8L510.8 269.6Z"/>
<path class="k" d="M501.1 273.5L507.8 278.0L505.4 279.2L498.7 274.7Z"/>
<path class="k" d="M537.3 259.2L543.8 263.0L541.4 264.2L534.9 260.4Z"/>
<path class="k" d="M546 263.4L551 266L557.5 266.5L558 275.5L551.5 272.5Z"/>
<path d="M552.6 268L556.4 268.4L556.6 272.6L552.8 271Z" fill="#fff"/>
<path class="p" d="M545 262.4L551 266L551.5 272.5L545 276L533 279.5L521 281.5"/>
<path class="p" d="M509 277.4L505 281.5L497 283.5L490.3 280.7"/>
<path class="p" d="M538.5 258.6L551 263L557.5 266.5L558 275.5"/>
<path class="p" d="M551 266L557.5 266.5"/>
<circle cx="503.6" cy="277.8" r="1" class="k"/><circle cx="492" cy="285.6" r="1.2" class="k"/>
<path class="p" d="M497 283.5L497.5 291L497.2 297"/>
<path class="p" d="M487.7 283.2L494 286.4L497.4 287.4"/>
<path class="h" d="M505 281.5L512 285.2L530 283L545 281L551 283.5"/>
<path class="p" d="M515 287.8L530 286.5L548 289"/>
<path class="k" d="M520 280.4L528 279.2L529 282L521 283.2Z"/>
<path class="h" d="M505.8 285.8L520 290L548 296L576.2 301.3"/>
<path class="h" d="M508 289.5L548 298.6L575 304"/>
<path class="p" d="M516 288.4L548 293.8L574 298.6"/>
<path class="h" d="M550.4 272.9L557 281L566 290L576.2 299.6"/>
<path class="p" d="M553.5 271.5L560 279.5L570 289.5L577.5 296.6"/>
<path class="p" d="M551.5 275.5L552 290L553.5 296.5"/>
<path class="h" d="M553.9 299.6L562 309.5L571.1 320.2L576.2 325.3L582.2 325.3L582.6 314L582.7 303.9L577.1 303"/>
<path class="p" d="M558 301L566 311L576.2 322.5"/>
<path class="p" d="M571.5 313L575 319L578.5 312.5"/>
<path class="t" d="M577.1 303L577.6 314L577 322"/>
<g transform="translate(512.4 251.2) rotate(-22)">
<path class="k" d="M4 -2.4L9.4 -3.6L10.6 -1.2L10.2 1.4L4 2.6Z"/>
<ellipse cx="3.4" cy="0" rx="2.3" ry="6.6" fill="#fff" stroke="#000" stroke-width="1.6"/>
<path d="M2.6 -5.6L-6.4 -4.6Q-9.6 -3.8 -9.8 0.4Q-9.6 4.6 -6.2 5.2L2.6 5.8Z" fill="#fff" stroke="#000" stroke-width="1.6" stroke-linejoin="round"/>
<path class="k" d="M-4.6 -2.2L1 -2.8L1 2.6L-4.6 2.8Z"/><path d="M-3 -.8L-.4 -1L-.4 1L-3 1.2Z" fill="#fff"/>
<ellipse cx="-6.6" cy=".4" rx="2.6" ry="4.4" fill="none" stroke="#000" stroke-width="1.1"/>
</g>
<g transform="translate(729 295.8) rotate(-24)">
<path class="k" d="M4 -2.4L9.4 -3.6L10.6 -1.2L10.2 1.4L4 2.6Z"/>
<ellipse cx="3.4" cy="0" rx="2.3" ry="6.6" fill="#fff" stroke="#000" stroke-width="1.6"/>
<path d="M2.6 -5.6L-6.4 -4.6Q-9.6 -3.8 -9.8 0.4Q-9.6 4.6 -6.2 5.2L2.6 5.8Z" fill="#fff" stroke="#000" stroke-width="1.6" stroke-linejoin="round"/>
<path class="k" d="M-4.6 -2.2L1 -2.8L1 2.6L-4.6 2.8Z"/><path d="M-3 -.8L-.4 -1L-.4 1L-3 1.2Z" fill="#fff"/>
<ellipse cx="-6.6" cy=".4" rx="2.6" ry="4.4" fill="none" stroke="#000" stroke-width="1.1"/>
</g>
<path class="pw" style="stroke-width:1.9" d="M435.5 262.5L439.9 258.7L445 257.4L451.1 256.9L455.5 258.4L459.8 260.6L467.3 261.2L472.9 266.2L466.1 271.2L454.9 273.9L447 274.5L438.6 270L435.5 266.2Z"/>
<ellipse class="h" cx="448" cy="263.6" rx="5.4" ry="3.2" transform="rotate(8 448 263.6)"/>
<ellipse class="k" cx="448.4" cy="264.2" rx="2.6" ry="1.4" transform="rotate(8 448.4 264.2)"/>
<path class="p" d="M455.5 258.4L454.5 264.5L456 269.5L466.1 271.2"/>
<path class="h" d="M459 266.5L467.5 263.8"/>
<path class="h" d="M433 276.8L438.6 275L441 273"/>
<path class="h" d="M433 276.8L433.6 279.9L453.6 291.8L471.7 286.2L472.3 283.1L461 277"/>
<path class="p" d="M433 276.8L453.5 288.6L472.3 283.1"/>
<path class="p" d="M453.5 288.6L453.6 291.8"/>
<path class="h" d="M440.5 271.5L443 278.5L450 282.6L455.5 281.5L454.6 274.5"/>
<path class="p" d="M461 277L466.1 271.2"/>
<path class="h" d="M445 279.6L450.5 278.4"/>
<path class="k" d="M463 278.6L470 282.6L464.5 284.4L459 281Z"/>
<path class="pw" style="stroke-width:1.8" d="M388.1 283.1L391 280.8L395 279.9L398.4 280.6L400.6 282.4L404 290L408.7 298.7L411 302L401 304L398.7 299.9L395.5 293L392.5 287.4Z"/>
<path class="k" d="M388.1 283.1L391 280.8L395 279.9L398.4 280.6L400.6 282.4L401.6 285L392.5 287.4Z"/>
<path class="h" d="M396.5 286.6L405 301.4"/>
<path class="p" d="M399.6 285.5L407.8 299.8"/>
<path d="M424.9 292.8L427.6 291.2L454 304L453 310.2L440 309.8L429.9 308.8L418 306.8L414 302.6L420 299Z" fill="#fff" stroke="#000" stroke-width="1.2" stroke-linejoin="round"/>
<path class="k" d="M424.9 292.8L427.6 291.2L454 304L453.4 308L424 295.4Z"/>
<path class="k" d="M415 303.4L430 306.4L453.2 307.8L453 310.4L430 309.4L417 306.8Z"/>
<path class="p" d="M414 302.2L424.9 292.6"/>
<path class="pw" style="stroke-width:1.9" d="M396.8 307.5L399.9 303.7L413.7 301.8L418 304L421 309.5L424.5 322L424.9 327.4L427.4 334.9L422.4 338.6L413.7 336.1L412.4 331.2L398.1 327.4L397.2 318Z"/>
<path class="p" d="M396.8 307.5L401 310.6L412.4 310L418 304"/>
<path class="p" d="M401 310.6L401.6 326.6"/>
<path class="h" d="M412.4 310L412.4 331.2"/>
<path class="p" d="M412.4 318L417.4 327.4L424.9 327.4"/>
<path d="M403 316.2L409.9 315.4L410.2 325.2L403.4 325Z" fill="#000" stroke="#000" stroke-width="1.2" stroke-linejoin="round"/><path d="M405.4 318.6L408.2 318.4L408.4 322.6L405.6 322.6Z" fill="#fff"/>
<ellipse cx="421.4" cy="333" rx="2.8" ry="2.6" class="k"/><ellipse cx="421" cy="332.6" rx="1" ry=".9" fill="#fff"/>
<path class="p" d="M399.9 303.7L405 307L413.7 301.8"/>
<path class="k" d="M404 304.4L411.6 302.6L416.5 304.6L412 309L406 308.6Z"/>
<path class="p" d="M417.4 327.4L417.8 336.8"/>
<path d="M411.4 377.5L411.6 341.6Q413.6 337.4 415.8 341.6L416 377.5Z" fill="#fff" stroke="#000" stroke-width="1.6" stroke-linejoin="round"/>
<path class="p" d="M414.6 342L414.8 377"/>
<ellipse cx="413.6" cy="379.8" rx="6.6" ry="2.6" fill="#fff" stroke="#000" stroke-width="1.6"/>
<path d="M407.6 382.4L407.8 386.6Q413.6 391.4 419.2 386.6L419.4 382.4" fill="#fff" stroke="#000" stroke-width="1.6"/>
<path class="k" d="M408 383.4Q413.6 386.4 419 383.4L419 385.4Q413.6 388.4 408 385.4Z"/>
<g transform="rotate(14 427.6 358)"><ellipse cx="427.6" cy="358" rx="6" ry="4.3" class="k"/><ellipse cx="425.4" cy="357" rx="1.4" ry="1.2" fill="#fff"/><ellipse cx="430" cy="358.6" rx="1.2" ry="1.1" fill="#fff"/></g>
<g transform="rotate(20 452.8 225.2)"><ellipse cx="452.8" cy="225.2" rx="4.4" ry="4.8" class="k"/><ellipse cx="451.6" cy="223.6" rx="1.3" ry="1" fill="#fff"/><ellipse cx="453.6" cy="227" rx="1.1" ry=".9" fill="#fff"/></g>
<path class="pw" style="stroke-width:1.9" d="M492.5 372L496.8 366.3L509.9 361.4L524.9 365.7L532.4 373.2L529.9 377.6L512.4 381.9L501.2 375.7L492.5 374.4Z"/>
<path class="p" d="M498 368.6L509.5 364.4L513.5 367.8L502.5 372.4L498 368.6"/>
<ellipse class="p" cx="506.5" cy="366.6" rx="2" ry="1.2"/>
<path class="p" d="M513.5 367.8L523.5 368.2L529.5 374.2"/>
<path class="h" d="M511 376.6L527.5 372.8"/>
<path class="k" d="M512.6 376.4L519 372.4L520.4 374.6L524 372L527.6 374.4L527 377.4L513.4 380.2Z"/>
<path class="h" d="M492.5 374.4L491.8 384.4L493.5 388.6"/>
<path class="h" d="M501.2 375.7L501.2 388.2"/>
<path class="p" d="M494.4 377L496.6 378.6L496.4 386"/>
<path class="p" d="M512.4 381.9L512.4 385.6L519.9 388.2"/>
<path class="h" d="M504.5 384L507 389.5"/>
<path class="p" d="M508 381.5L510.5 386.5"/>
<path class="pw" style="stroke-width:1.9" d="M489.3 391.9L495 388.2L502.4 393.2L519.9 388.2L532.4 395.7L529.9 400L512.4 405L502.4 401.9Z"/>
<path class="p" d="M489.3 391.9L491 394.2L502.6 399.2L512.6 402.2L529.9 397.4"/>
<path class="p" d="M502.4 393.2L502.6 399.2"/>
<ellipse class="h" cx="514.6" cy="396" rx="2.4" ry="1.5"/>
<circle cx="522" cy="392.6" r="1" class="k"/><circle cx="509" cy="397" r=".9" class="k"/>
<path class="k" d="M512.6 402.4L529.9 397.6L529.9 400L512.4 405Z"/>
<path class="h" d="M863.4 226.4L864.6 224.2L866.9 223L871 221.6L876.3 221.3L883 222.2L890 223.9L898 227L905.5 230.7L911 233.6L915.8 236.7L918.8 239L920.9 241.9L920.4 245L919.2 247.9"/>
<path class="h" d="M872.9 227.3L875.5 226.4L883 227.6L890 229.6L898 232.6L905.5 236.4L911 240L915.5 244.5L917.5 248.5"/>
<path class="p" d="M874.6 229.6L883 231.2L890 233.3L898 236.4L903.8 239.6L909 243.6L913 248"/>
<path class="h" d="M863.4 226.4L863.6 230L864.3 233.3L866.4 234.8L868.6 235L870 248L871.2 261.6L872.6 264L874.6 265L876.8 263.6L878 261.6"/>
<path class="h" d="M872.9 227.3L874.6 243L876.3 259.9"/>
<path class="p" d="M866.6 225.4L867.2 232.6"/>
<path class="t" d="M869.6 225.6L870.2 235"/>
<path class="t" style="stroke-dasharray:3 2" d="M868.4 238L869.8 258"/>
<path class="h" d="M878 261.6L884 263L890 265L898 267.8L905.5 271"/>
<path class="p" d="M876.3 259L884 260.2L890 261.6L898 264L907.2 267.6"/>
<path class="p" d="M889.2 234L889.2 258.4"/>
<path class="h" d="M912.3 251.3L905 267.5L897.8 283.9L905.5 292.5L911.5 287.3L912 272L915.8 261.6L922.6 258.2L923.5 254.7L919.2 247.9"/>
<path class="p" d="M916.6 252L909.5 268L903 284"/>
<ellipse class="p" cx="904.8" cy="285.8" rx="1.3" ry="2" transform="rotate(20 904.8 285.8)"/>
<path class="t" style="stroke-dasharray:2.4 1.6" d="M917.5 262.5L912.6 282"/>
<path d="M916.2 256.2L920.2 254.4L923.4 256.6L922.6 262.6L918.6 264.8L915.8 262Z" fill="#fff" stroke="#000" stroke-width="1.5" stroke-linejoin="round"/><ellipse cx="919.4" cy="259.4" rx="1.4" ry="1.9" class="k"/>
<path class="k" d="M925.4 250.4L928.6 246L934 245.4L937.4 249L936.8 254.6L932.6 257.4L927.6 256.2Z"/><path d="M928.4 249.6L931 247.6L934.2 248.6" stroke="#fff" stroke-width=".9" fill="none"/><ellipse cx="930.6" cy="252" rx="1.7" ry="1.5" fill="#fff"/>
<path class="h" d="M915.5 246L925.6 251.6"/>
<path class="h" d="M845.4 209.3L847 208L854.9 210.6L855.7 232.4L853 234.6"/>
<path class="h" d="M845.4 209.3L846.3 227.3"/>
<ellipse class="k" cx="850.5" cy="217.6" rx="1.2" ry="2" transform="rotate(-5 850.5 217.6)"/>
<path d="M836.4 233.6Q836.2 230.6 840.4 229.2L846.3 227.6L851.6 230L851.8 234.4Q851.4 237.6 846.4 239L840.4 239.4Q836.6 237.6 836.4 233.6Z" fill="#fff" stroke="#000" stroke-width="1.8" stroke-linejoin="round"/>
<ellipse cx="843.6" cy="233.6" rx="3.6" ry="2.2" fill="#ccc" stroke="#000" stroke-width="1" transform="rotate(-14 843.6 233.6)"/>
<path class="k" d="M851 229.6L855.6 231.4L853.4 235L851.6 234.6Z"/><path class="h" d="M846.3 227.3L842.8 225.6"/>
<g transform="translate(866 286.4) rotate(28)"><path class="k" d="M-4 -1.9L-13.4 -1.9L-14.4 0L-13.4 1.9L-4 1.9Z"/><path d="M-12 -.6L-5 -.6" stroke="#fff" stroke-width=".7" stroke-dasharray="1 1.3"/><ellipse cx="0" cy="0" rx="5.4" ry="5.8" fill="#fff" stroke="#000" stroke-width="1.7"/><ellipse cx="1" cy=".2" rx="3.2" ry="3.6" fill="#fff" stroke="#000" stroke-width="1.1"/><ellipse cx="1.4" cy=".4" rx="1.4" ry="1.6" fill="#bbb"/></g>
<g transform="translate(882.8 280) rotate(-28)"><path class="k" d="M3 -1.8L9 -1.2L13 0L9 1.2L3 1.8Z"/><ellipse cx="0" cy="0" rx="3.7" ry="4.2" fill="#fff" stroke="#000" stroke-width="1.6"/><ellipse cx="-.4" cy=".4" rx="1.8" ry="2.2" fill="#ddd"/></g>
<g transform="translate(643.6 235.8) rotate(-30)"><path class="k" d="M3 -1.9L8 -1.4L13.4 0L8 1.4L3 1.9Z"/><ellipse cx="0" cy="0" rx="3.8" ry="4.3" fill="#fff" stroke="#000" stroke-width="1.6"/><path class="p" d="M-1.8 -1.6L1.8 1.8"/></g>
<path class="h" d="M693.7 270L717.4 260.6L728.6 264.3L728.6 276.2L719.9 281.2L710.5 286"/>
<path class="p" d="M717.4 260.6L719 271.5L719.9 281.2"/>
<path class="p" d="M702 273.6L719 266.5L728.6 264.3"/>
<path class="p" d="M722.6 267L722.8 278"/>
<path class="t" d="M725.4 266L725.6 276.8"/>
<path class="p" d="M709.3 278.1L719 271.5"/>
<path d="M683.4 267.6L708.4 277Q709.5 277.4 709.6 278.8L710.6 300.6Q710.6 302.4 708.8 301.8L684.2 293.4Q683 292.8 682.9 291.6L682.4 268.6Q682.4 267.2 683.4 267.6Z" fill="#fff" stroke="#000" stroke-width="1.8" stroke-linejoin="round"/>
<path d="M690.4 278.4L701.4 282.6Q702.6 283.2 702.6 284.4L702.6 291.4Q702.6 292.8 701.2 292.4L690.4 288.2Q689.2 287.6 689.2 286.4L689.2 279.2Q689.2 278 690.4 278.4Z" fill="#fff" stroke="#000" stroke-width="2.2" stroke-linejoin="round"/>
<path class="p" d="M691 287L700.6 283.6"/>
<circle cx="686" cy="272" r=".9" class="k"/>
<circle cx="706.6" cy="279.6" r=".9" class="k"/>
<circle cx="686.4" cy="289.6" r=".9" class="k"/>
<circle cx="707.4" cy="297.6" r=".9" class="k"/>
<path class="p" d="M710.5 286L711.4 296L710.6 300.6"/>
<path class="p" d="M713 283L713.6 295.5L710.6 301.4"/>
<g transform="translate(744.8 261.2) rotate(-20)"><path class="k" d="M4 -2L11.6 -2.4L13.4 0L11.6 2.4L4 2Z"/><path d="M6 -.6L11 -.8" stroke="#fff" stroke-width=".7" stroke-dasharray="1 1.2"/><ellipse cx="0" cy="0" rx="5.2" ry="6.4" fill="#fff" stroke="#000" stroke-width="1.7"/><path d="M-3 -3.2L.6 -4.4L3.4 -2.2L3.4 2.4L.4 4.6L-3 3.2Z" fill="#fff" stroke="#000" stroke-width="1.1" stroke-linejoin="round"/><path class="p" d="M.5 -4.4L.4 4.6"/></g>
<path class="pw" style="stroke-width:1.9" d="M622.4 105L633.6 101.9L636.8 106.2L639.3 111.2L638.6 116.2L634.9 120L623.7 124.3L619.9 120L616.8 113.1L619.8 110Z"/>
<path class="h" d="M622.4 105L624.6 112L624.4 118L623.7 124.3"/>
<path class="p" d="M624.6 112L636.8 106.2"/>
<path class="p" d="M624.4 118L634.9 120"/>
<ellipse cx="631.4" cy="113.6" rx="3.6" ry="3.8" fill="#fff" stroke="#000" stroke-width="1.8"/><ellipse cx="632" cy="113.8" rx="1.5" ry="1.7" class="k"/><path class="h" d="M635 113.4L639 112.6"/>
<g class="ld">
<path d="M76 173L121 187"/>
<path d="M76 173L76 176"/>
<path d="M121 187L121 190.5"/>
<path d="M101.8 172L101.8 183.7"/>
<path d="M53 238.6L65.4 238.6"/>
<path d="M52 270.8L77.8 270.8"/>
<path d="M186.6 243.6L186.6 257.8"/>
<path d="M326.8 109.5L341 109.5"/>
<path d="M326 131.9L339.8 131.9"/>
<path d="M367.2 120L383.4 120"/>
<path d="M325.3 154.9L339.8 154.9"/>
<path d="M326 174.8L342.3 174.8"/>
<path d="M344.8 191L358.5 191"/>
<path d="M356 210.3L369.2 210.3"/>
<path d="M252.4 178.6L270 178.6"/>
<path d="M251.2 202.8L268.7 202.8"/>
<path d="M434.6 178.6L453.3 178.6"/>
<path d="M651.8 55.4L671 55.4"/>
<path d="M724.7 66.2L737.6 66.2"/>
<path d="M653.6 89.1L673.5 89.1"/>
<path d="M604.9 112.8L619.4 112.8"/>
<path d="M638.6 142.3L654.8 142.3"/>
<path d="M708.5 150.2L723.4 150.2"/>
<path d="M758.3 35.5L775.8 35.5"/>
<path d="M755.2 8.7L775.9 8.7"/>
<path d="M851.3 44.4L857.5 44.4"/>
<path d="M921.6 58.6L921.6 79.8"/>
<path d="M952.3 25L952.3 49.9"/>
<path d="M780.2 176.1L780.2 188.6"/>
<path d="M810.1 189.8L825.1 189.8"/>
<path d="M810.1 217.2L821.3 217.2"/>
<path d="M615 183L633.7 183"/>
<path d="M736 196.2L739.7 197.4"/>
<path d="M627.9 237.4L639.9 237.4"/>
<path d="M749.7 267.3L749.7 286"/>
<path d="M937.3 249.9L949.8 249.9"/>
<path d="M840.8 239.9L840.8 249.4"/>
<path d="M846.3 264.9L846.3 274.9"/>
<path d="M865 291.1L865 312.3"/>
<path d="M883.2 284.8L884.4 309.8"/>
<path d="M911.6 291.1L911.6 311"/>
<path d="M850 279.4L873.7 266.1"/>
<path d="M441.2 224.2L448.7 224.2"/>
<path d="M471.1 230.4L479.8 230.4"/>
<path d="M514.8 218.7L514.8 243.7"/>
<path d="M565.9 269.4L593.4 271.1"/>
<path d="M415 291.1L415 304.8"/>
<path d="M459.9 289.8L459.9 296.1"/>
<path d="M477.3 321L496.1 321"/>
<path d="M364.9 294.2L378.7 294.2"/>
<path d="M364.9 314.9L381.1 314.9"/>
<path d="M479.7 342.4L493.4 342.4"/>
<path d="M433.5 357.8L442.3 357.8"/>
<path d="M418.6 382.3L433.5 382.3"/>
<path d="M530.8 397.7L555.8 397.7"/>
<path d="M244.9 251.1L264.4 251.1"/>
<path d="M251.1 276.6L268.6 276.6"/>
<path d="M293.1 246.1L293.1 257.4"/>
<path d="M329.2 241.2L329.2 253.6"/>
<path d="M276.8 304L296.1 304"/>
<path d="M210.5 284.8L210.5 297.3"/>
<path d="M82.5 332.4L88.7 333.6"/>
<path d="M141.1 357.8L150.3 358.6"/>
<path d="M102.8 431.9L114.8 431.9"/>
<path d="M207.1 472.3L214.6 472.3"/>
<path d="M38.7 458.6L38.7 474.3"/>
<path d="M115.3 501.5L134.7 501.5"/>
<path d="M171.7 478.6L171.7 505"/>
<path d="M283.6 418.7L312.3 420.5"/>
<path d="M283.6 446.2L299.8 446.9"/>
<path d="M359.7 437.9L370.9 437.9"/>
<path d="M358.4 517.3L365.9 518.5"/>
<path d="M306.8 527.2L306.8 533.5"/>
<path d="M693.7 301.5L693.7 314.3"/>
<path d="M732.1 302.5L732.1 314.3"/>
<path d="M344.7 421.5L407 423L407 537L341 537"/>
<path d="M79.8 398.7L79.8 439.7L293.6 526L294.8 484.8"/>
<path d="M249.9 469.9L249.2 507.3"/>
<path d="M423.6 323.6L468.5 347.3L474 350L474.7 344"/>
</g>
</svg></body></html>
